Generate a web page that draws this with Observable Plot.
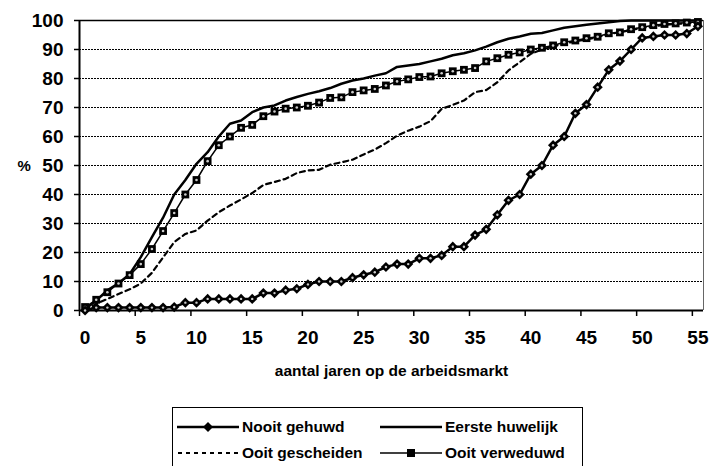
<!DOCTYPE html>
<html>
<head>
<meta charset="utf-8">
<script src="https://cdn.jsdelivr.net/npm/d3@7"></script>
<script src="https://cdn.jsdelivr.net/npm/@observablehq/plot@0.6"></script>
<style>
  html, body { margin: 0; padding: 0; background: #fff; overflow: hidden; }
  #wrap { position: relative; width: 709px; height: 466px; font-family: "Liberation Sans", Arial, sans-serif; }
  #legend { position: absolute; left: 172px; top: 407px; width: 411px; height: 80px; border: 1.5px solid #000; box-sizing: border-box; background: #fff; }
  .item { position: absolute; display: flex; align-items: center; font-size: 15.5px; font-weight: bold; color: #000; }
  .item svg { margin-right: 3px; }
</style>
</head>
<body>
<div id="wrap"></div>
<script>
// categories (years on the labour market)
const years = d3.range(0, 56);
const xTickLabels = [0, 5, 10, 15, 20, 25, 30, 35, 40, 45, 50, 55];
const yTickLabels = [0, 10, 20, 30, 40, 50, 60, 70, 80, 90, 100];

// series values (%)
const nooit = [0, 1, 1, 1, 1, 1, 1, 1, 1.2, 2.7, 2.7, 4, 4, 4, 4, 4, 6, 6, 7, 7.5,
  9, 10, 10, 10, 11.3, 12.3, 13.2, 15, 16, 16, 18, 18, 19, 22, 22, 26, 28, 33, 38, 40,
  47, 50, 57, 60, 68, 71, 77, 83, 86, 90, 94, 94.5, 95, 95, 95.5, 98];
const eerste = [0.5, 3.4, 7, 9.4, 12.5, 18.4, 25.3, 32, 40, 45, 50.6, 54.6, 60, 64.4, 65.5, 68.4, 70, 70.7, 72.4, 73.6,
  74.7, 75.6, 76.7, 78.2, 79.3, 80, 81, 81.8, 84, 84.5, 85, 85.9, 86.8, 88, 88.7, 89.7, 91, 92.5, 93.7, 94.5,
  95.4, 95.7, 96.6, 97.5, 98, 98.5, 99, 99.4, 99.8, 100, 100, 100, 100, 100, 100, 100];
const gescheiden = [0, 2.3, 4, 5.7, 7.3, 9.3, 13, 18.3, 23.6, 26.4, 27.6, 31, 33.9, 36.2, 38.3, 40.5, 43.3, 44.3, 45.4, 47.4,
  48.3, 48.5, 50.3, 51.1, 52, 53.8, 55.5, 57.7, 60.3, 62, 63.4, 65.3, 69.5, 70.9, 72.4, 75.3, 76, 78.7, 82.8, 85.6,
  88.5, 90, 91, 92, 92.8, 93.5, 94.3, 95.3, 96, 96.7, 97.5, 98, 98.5, 98.8, 99, 99.3];
const verweduwd = [1.2, 3.7, 6.3, 9.3, 12.2, 16, 21.2, 27.4, 33.6, 40, 45, 51.5, 57, 60, 63, 64, 67, 68.6, 69.6, 70,
  70.6, 71.7, 73.3, 73.5, 75.3, 75.9, 76.4, 77.6, 79, 79.7, 80.5, 80.7, 81.8, 82.5, 83, 83.6, 85.9, 87, 88.2, 89,
  90, 90.6, 91.4, 92.5, 93.1, 93.9, 94.4, 95.6, 95.9, 97, 97.7, 98.4, 98.8, 99, 99.3, 99.5];

const seriesNames = ["Nooit gehuwd", "Eerste huwelijk", "Ooit gescheiden", "Ooit verweduwd"];

const font = '"Liberation Sans", Arial, sans-serif';

const chart = Plot.plot({
  width: 709,
  height: 400,
  marginLeft: 79,
  marginRight: 6,
  marginTop: 20,
  marginBottom: 90,
  x: {domain: [-0.5, 55.5]},
  y: {domain: [0, 100]},
  style: {fontFamily: font, fontSize: "19px", fontWeight: "bold", background: "#fff", color: "#000", overflow: "visible"},
  marks: [
    Plot.ruleY(yTickLabels.filter(v => v > 0 && v < 100), {stroke: "#000", strokeWidth: 1, strokeDasharray: "2,1"}),
    Plot.ruleY([100], {stroke: "#000", strokeWidth: 1.5}),
    Plot.ruleX([55.5], {stroke: "#666", strokeWidth: 1}),
    Plot.axisY({ticks: yTickLabels, tickSize: 5, tickPadding: 11, label: null, strokeWidth: 1.5, fontSize: 19, fontWeight: "bold"}),
    Plot.axisX({ticks: xTickLabels.map(v => v - 0.5), tickSize: 6, tickFormat: () => "", label: null, strokeWidth: 1.5}),
    Plot.axisX({ticks: xTickLabels, tickSize: 0, tickPadding: 20, label: null, fontSize: 19, fontWeight: "bold"}),
    Plot.ruleX([-0.5], {stroke: "#000", strokeWidth: 2}),
    Plot.ruleY([0], {stroke: "#000", strokeWidth: 2}),
    Plot.text(["%"], {frameAnchor: "left", dx: -62, dy: 1, fontSize: 15, fontWeight: "bold"}),
    Plot.text(["aantal jaren op de arbeidsmarkt"], {frameAnchor: "bottom", dy: 65, fontSize: 15.5, fontWeight: "bold"}),
    // Ooit gescheiden
    Plot.line(years, {x: d => d, y: d => gescheiden[d], stroke: "#000", strokeWidth: 2.2, strokeDasharray: "5,4"}),
    // Eerste huwelijk
    Plot.line(years, {x: d => d, y: d => eerste[d], stroke: "#000", strokeWidth: 2.5}),
    // Ooit verweduwd
    Plot.line(years, {x: d => d, y: d => verweduwd[d], stroke: "#000", strokeWidth: 1.5}),
    Plot.dot(years, {x: d => d, y: d => verweduwd[d], symbol: "square", r: 4.4, fill: "#000"}),
    Plot.dot(years, {x: d => d, y: d => verweduwd[d], r: 1.3, fill: "#ccc"}),
    // Nooit gehuwd
    Plot.line(years, {x: d => d, y: d => nooit[d], stroke: "#000", strokeWidth: 2.5}),
    Plot.dot(years, {x: d => d, y: d => nooit[d], symbol: "diamond2", r: 4.6, fill: "#000"}),
    Plot.dot(years, {x: d => d, y: d => nooit[d], r: 1.2, fill: "#ccc"})
  ]
});

const wrap = document.getElementById("wrap");
wrap.appendChild(chart);

// legend
const legend = document.createElement("div");
legend.id = "legend";
const sw = {
  diamond: '<svg width="62" height="12"><line x1="0" y1="6" x2="62" y2="6" stroke="#000" stroke-width="2.5"/><path d="M31,1 L36,6 L31,11 L26,6 Z" fill="#000"/></svg>',
  solid: '<svg width="62" height="12"><line x1="0" y1="6" x2="62" y2="6" stroke="#000" stroke-width="2.5"/></svg>',
  dashed: '<svg width="62" height="12"><line x1="1" y1="6" x2="62" y2="6" stroke="#000" stroke-width="2" stroke-dasharray="4,4"/></svg>',
  square: '<svg width="62" height="12"><line x1="0" y1="6" x2="62" y2="6" stroke="#000" stroke-width="1.5"/><rect x="27" y="2" width="8" height="8" fill="#000"/></svg>'
};
const items = [
  {name: seriesNames[0], sw: sw.diamond, left: 4, top: 10},
  {name: seriesNames[1], sw: sw.solid, left: 207, top: 10},
  {name: seriesNames[2], sw: sw.dashed, left: 4, top: 36},
  {name: seriesNames[3], sw: sw.square, left: 207, top: 36}
];
for (const it of items) {
  const el = document.createElement("div");
  el.className = "item";
  el.style.left = it.left + "px";
  el.style.top = it.top + "px";
  el.innerHTML = it.sw + "<span>" + it.name + "</span>";
  legend.appendChild(el);
}
wrap.appendChild(legend);
</script>
</body>
</html>
